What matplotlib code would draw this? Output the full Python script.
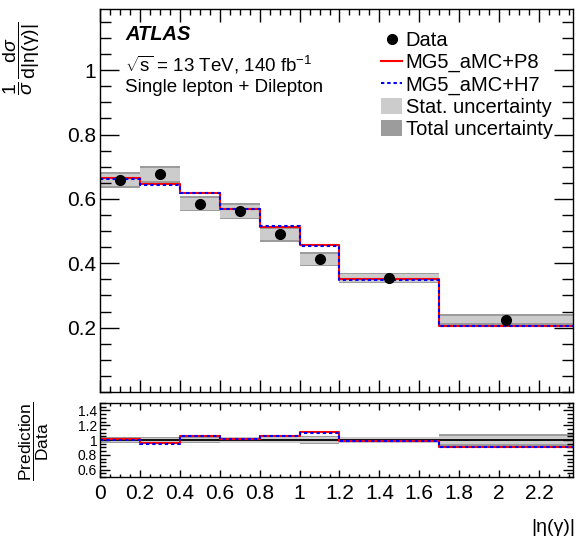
import numpy as np
import matplotlib
matplotlib.use("Agg")
import matplotlib.pyplot as plt
from matplotlib.lines import Line2D
from matplotlib.patches import Patch
from matplotlib.ticker import MultipleLocator

plt.rcParams['font.family'] = ['Liberation Sans', 'DejaVu Sans']
plt.rcParams['mathtext.fontset'] = 'custom'
plt.rcParams['mathtext.rm'] = 'Liberation Sans'
plt.rcParams['mathtext.it'] = 'Liberation Sans:italic'
plt.rcParams['mathtext.bf'] = 'Liberation Sans:bold'

# bin edges in |eta(gamma)|
edges = [0.0, 0.2, 0.4, 0.6, 0.8, 1.0, 1.2, 1.7, 2.37]
centers = [0.1, 0.3, 0.5, 0.7, 0.9, 1.1, 1.45, 2.035]

data = [0.659, 0.676, 0.585, 0.562, 0.490, 0.412, 0.354, 0.225]
stat_unc = [0.019, 0.021, 0.019, 0.020, 0.018, 0.017, 0.012, 0.012]
tot_unc = [0.025, 0.027, 0.024, 0.025, 0.023, 0.022, 0.016, 0.018]

pred_p8 = [0.664, 0.645, 0.617, 0.569, 0.514, 0.456, 0.350, 0.205]
pred_h7 = [0.662, 0.644, 0.618, 0.570, 0.517, 0.453, 0.349, 0.204]

W, H = 583, 538
fig = plt.figure(figsize=(W / 100, H / 100), dpi=100)


def box(l, t, r, b):
    return [l / W, 1 - b / H, (r - l) / W, (b - t) / H]


ax = fig.add_axes(box(100, 9, 573, 392))
rax = fig.add_axes(box(100, 403, 573, 477))

c_stat = '#cccccc'
c_tot = '#9c9c9c'
dash = (0, (1.6, 1.4))


def stepy(v):
    return list(v) + [v[-1]]


d = np.array(data)
st = np.array(stat_unc)
tt = np.array(tot_unc)

# main panel
ax.fill_between(edges, stepy(d - tt), stepy(d + tt), step='post', color=c_tot, lw=0)
ax.fill_between(edges, stepy(d - st), stepy(d + st), step='post', color=c_stat, lw=0)
ax.step(edges, stepy(pred_p8), where='post', color='red', lw=1.5)
ax.step(edges, stepy(pred_h7), where='post', color='blue', lw=1.5, ls=dash)
ax.plot(centers, data, 'o', color='black', ms=7)

ax.set_xlim(0, 2.37)
ax.set_ylim(0, 1.19)
ax.xaxis.set_major_locator(MultipleLocator(0.2))
ax.xaxis.set_minor_locator(MultipleLocator(0.05))
ax.yaxis.set_minor_locator(MultipleLocator(0.05))
ax.set_yticks([0.2, 0.4, 0.6, 0.8, 1.0])
ax.set_yticklabels(['0.2', '0.4', '0.6', '0.8', '1'])
ax.tick_params(axis='x', which='both', labelbottom=False)
ax.tick_params(which='both', direction='in', top=True, right=True, width=1)
ax.tick_params(axis='x', which='major', length=9)
ax.tick_params(axis='x', which='minor', length=4.5)
ax.tick_params(axis='y', which='major', length=14, labelsize=15, pad=3)
ax.tick_params(axis='y', which='minor', length=8)

# ratio panel
rd = tt / d
rs = st / d
rax.fill_between(edges, stepy(1 - rd), stepy(1 + rd), step='post', color=c_tot, lw=0)
rax.fill_between(edges, stepy(1 - rs), stepy(1 + rs), step='post', color=c_stat, lw=0)
rax.axhline(1, color='black', lw=1.3)
rax.step(edges, stepy(np.array(pred_p8) / d), where='post', color='red', lw=1.5)
rax.step(edges, stepy(np.array(pred_h7) / d), where='post', color='blue', lw=1.5, ls=dash)

rax.set_xlim(0, 2.37)
rax.set_ylim(0.5, 1.5)
rax.xaxis.set_minor_locator(MultipleLocator(0.05))
rax.set_yticks([0.6, 0.8, 1.0, 1.2, 1.4])
rax.set_yticklabels(['0.6', '0.8', '1', '1.2', '1.4'])
rax.yaxis.set_minor_locator(MultipleLocator(0.05))
rax.set_xticks([0, 0.2, 0.4, 0.6, 0.8, 1.0, 1.2, 1.4, 1.6, 1.8, 2.0, 2.2])
rax.set_xticklabels(['0', '0.2', '0.4', '0.6', '0.8', '1', '1.2', '1.4', '1.6', '1.8', '2', '2.2'])
rax.tick_params(which='both', direction='in', top=True, right=True, width=1)
rax.tick_params(axis='x', which='major', length=5, labelsize=15, pad=5)
rax.tick_params(axis='x', which='minor', length=2.5)
rax.tick_params(axis='y', which='major', length=7, labelsize=10, pad=2)
rax.tick_params(axis='y', which='minor', length=4)

for a in (ax, rax):
    for s in a.spines.values():
        s.set_linewidth(1)

# labels
fig.text(22 / W, 1 - 58 / H,
         r'$\dfrac{1}{\sigma}\,\dfrac{\mathrm{d}\sigma}{\mathrm{d}|\mathrm{\eta}(\mathrm{\gamma})|}$',
         rotation=90, ha='center', va='center', fontsize=14)
fig.text(34 / W, 1 - 441 / H, r'$\dfrac{\mathrm{Prediction}}{\mathrm{Data}}$',
         rotation=90, ha='center', va='center', fontsize=12.5)
fig.text(575 / W, 1 - 536 / H, '|η(γ)|', ha='right', va='bottom', fontsize=14)

fig.text(125 / W, 1 - 40 / H, 'ATLAS', fontsize=14.5, fontweight='bold',
         fontstyle='italic', ha='left', va='baseline')
fig.text(125 / W, 1 - 71 / H, r'$\sqrt{\mathrm{s}}$ = 13 TeV, 140 fb$^{-1}$', fontsize=13.5,
         ha='left', va='baseline')
fig.text(125 / W, 1 - 92 / H, 'Single lepton + Dilepton', fontsize=13.5,
         ha='left', va='baseline')

handles = [
    Line2D([], [], ls='none', marker='o', color='black', ms=7),
    Line2D([], [], color='red', lw=1.5),
    Line2D([], [], color='blue', lw=1.5, ls=dash),
    Patch(facecolor=c_stat, edgecolor='none'),
    Patch(facecolor=c_tot, edgecolor='none'),
]
labels = ['Data', 'MG5_aMC+P8', 'MG5_aMC+H7', 'Stat. uncertainty', 'Total uncertainty']
fig.legend(handles, labels, loc='upper left', bbox_to_anchor=(381 / W, 1 - 31 / H),
           frameon=False, fontsize=14.5, borderpad=0, borderaxespad=0,
           handlelength=1.05, handleheight=0.85, handletextpad=0.18, labelspacing=0.16)

fig.savefig('out.png', dpi=100)
